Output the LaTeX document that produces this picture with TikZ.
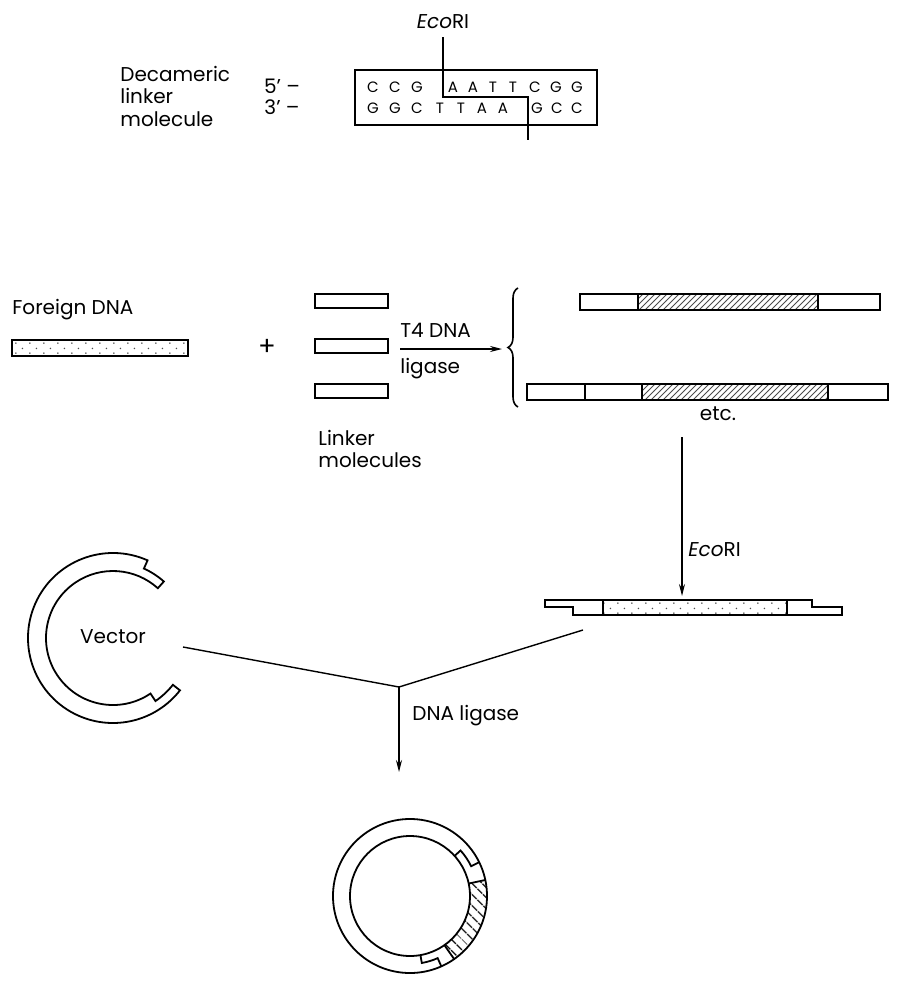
\documentclass[tikz,border=0pt]{standalone}
\usepackage{fontspec}
\setmainfont{Poppins}
\usepackage{tikz}
\usetikzlibrary{arrows.meta, positioning, calc, patterns, patterns.meta, decorations.pathreplacing}

\tikzdeclarepattern{
  name=stipple,
  type=uncolored,
  bounding box={(0,0) and (7pt,5pt)},
  tile size={(7pt,5pt)},
  code={
    \pgfpathcircle{\pgfpoint{1pt}{1pt}}{0.45pt}
    \pgfpathcircle{\pgfpoint{4.5pt}{3.5pt}}{0.45pt}
    \pgfusepath{fill}
  }
}

\begin{document}
\begin{tikzpicture}[
  x=0.5pt, y=-0.5pt,
  lbl/.style={font=\fontsize{10}{11.25}\selectfont, inner sep=0pt},
  seq/.style={font=\fontsize{7.5}{9}\selectfont, inner sep=0pt},
  bar/.style={draw, line width=0.9pt},
  cut/.style={line width=0.9pt},
  arr/.style={-{Stealth[length=6pt,width=3pt]}, line width=0.6pt}]
\useasboundingbox (0,0) rectangle (899,985);

% linker molecule
\node[lbl, anchor=west, align=left] (decam) at (120,96) {Decameric\\linker\\molecule};
\node[lbl] (five) at (282,86) {5' --};
\node[lbl] (three) at (282,107) {3' --};
\draw[line width=0.7pt] (355,70) rectangle (597,125);
\foreach \b/\x in {C/373,C/395,G/417,A/453,A/473,T/493,T/513,C/535,G/556,G/577}
  \node[seq] at (\x,87) {\b};
\foreach \b/\x in {G/373,G/395,C/417,T/440,T/461,A/482,A/503,G/537,C/557,C/577}
  \node[seq] at (\x,108) {\b};
\node[lbl] (ecotop) at (443,22) {\textit{Eco}RI};
\draw[cut] ([yshift=-4pt]ecotop.south) -- (443,97) -- (528,97) -- (528,140);

% foreign DNA + linkers
\node[lbl, anchor=west] (fdna) at (12,310) {Foreign DNA};
\draw[bar, pattern=stipple, pattern color=black!70] (12,340) rectangle (188,356);
\node[lbl, font=\fontsize{13}{13}\selectfont] (plus) at (267,347) {+};
\foreach \y in {294,339,384}
  \draw[bar] (315,\y) rectangle (388,\y+14);
\node[lbl, anchor=west, align=left] (linkers) at (318,449) {Linker\\molecules};

\coordinate (t4a) at (400,349);
\coordinate (t4b) at (502,349);
\draw[arr] (t4a) -- (t4b);
\node[lbl, anchor=base west] (t4) at (400,337) {T4 DNA};
\node[lbl, anchor=base west] (lig) at (400,373) {ligase};
\draw[line width=0.8pt, decorate, decoration={brace, amplitude=5pt}] (518,407) -- (518,288);

% ligation products
\draw[bar, pattern=north east lines, pattern color=black!70] (638,294) rectangle (818,310);
\draw[bar] (580,294) rectangle (880,310);
\draw[bar, pattern=north east lines, pattern color=black!70] (642,384) rectangle (828,400);
\draw[bar] (527,384) rectangle (888,400);
\draw[bar] (585,384) -- (585,400);
\node[lbl] (etc) at (718,414) {etc.};

% EcoRI digestion
\coordinate (eco1) at (682,437);
\coordinate (eco2) at (682,596);
\draw[arr] (eco1) -- (eco2);
\node[lbl, anchor=west] (ecomid) at (688,550) {\textit{Eco}RI};
\fill[pattern=stipple, pattern color=black!70] (603,600) rectangle (787,615);
\draw[bar] (545,600) -- (812,600) -- (812,607) -- (842,607) -- (842,615)
  -- (573,615) -- (573,607) -- (545,607) -- cycle;
\draw[bar] (603,600) -- (603,615) (787,600) -- (787,615);

% vector
\coordinate (vc) at (113,638);
\draw[bar] ($(vc)+(-66:85)$) arc[start angle=-66, end angle=-322, radius=85]
  -- ($(vc)+(38:76)$) arc[start angle=38, end angle=56, radius=76]
  -- ($(vc)+(56:67)$) arc[start angle=56, end angle=312, radius=67]
  -- ($(vc)+(-48:76)$) arc[start angle=-48, end angle=-66, radius=76] -- cycle;
\node[lbl] (veclbl) at (113,637) {Vector};

% joining
\coordinate (vtail) at (183,647);
\coordinate (ftail) at (583,630);
\coordinate (vj) at (399,687);
\coordinate (ptop) at (399,772);
\draw[line width=0.7pt] (vtail) -- (vj) -- (ftail);
\draw[arr] (vj) -- (ptop);
\node[lbl, anchor=west] (dnalig) at (412,716) {DNA ligase};

% recombinant plasmid
\coordinate (pc) at (410,896);
\fill[pattern={Lines[angle=-45, distance=4pt, line width=0.7pt]}]
  ($(pc)+(-12:77)$) arc[start angle=-12, end angle=55, radius=77]
  -- ($(pc)+(55:60)$) arc[start angle=55, end angle=-12, radius=60] -- cycle;
\draw[bar] (pc) circle[radius=77];
\draw[bar] (pc) circle[radius=60];
\draw[bar] ($(pc)+(-12:60)$) -- ($(pc)+(-12:77)$);
\draw[bar] ($(pc)+(55:60)$) -- ($(pc)+(55:77)$);
\draw[bar] ($(pc)+(-42:60)$) -- ($(pc)+(-42:68)$) arc[start angle=-42, end angle=-26, radius=68]
  -- ($(pc)+(-26:77)$);
\draw[bar] ($(pc)+(66:77)$) -- ($(pc)+(66:68)$) arc[start angle=66, end angle=80, radius=68]
  -- ($(pc)+(80:60)$);
\end{tikzpicture}
\end{document}
